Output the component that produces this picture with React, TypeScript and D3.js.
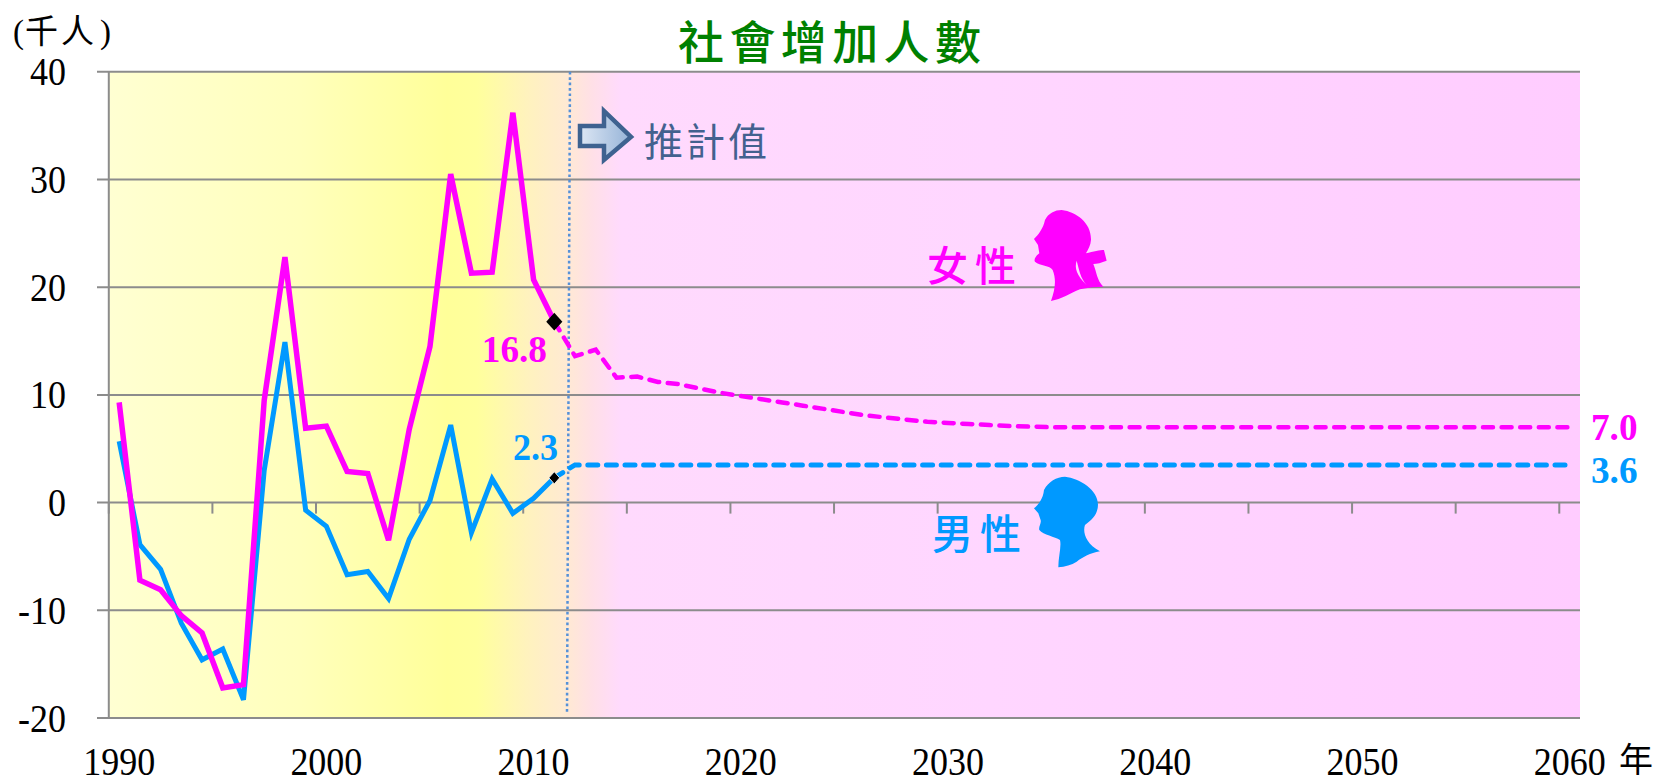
import React from "react";
import * as d3 from "d3";

const years = d3.range(1990, 2061);
const femaleActual = [9.3, -7.2, -8.1, -10.5, -12.1, -17.2, -16.9, 9.5, 22.8, 6.9, 7.1, 2.9, 2.7, -3.5, 6.8, 14.5, 30.5, 21.3, 21.4, 36.2, 20.7, 16.8];
const femaleProjected = [16.8, 13.6, 14.2, 11.6, 11.7, 11.2, 11.0, 10.6, 10.2, 9.9, 9.6, 9.3, 9.0, 8.7, 8.4, 8.1, 7.9, 7.7, 7.5, 7.4, 7.3, 7.2, 7.1, 7.05, 7.0, 7.0, 7.0, 7.0, 7.0, 7.0, 7.0, 7.0, 7.0, 7.0, 7.0, 7.0, 7.0, 7.0, 7.0, 7.0, 7.0, 7.0, 7.0, 7.0, 7.0, 7.0, 7.0, 7.0, 7.0, 7.0];
const maleActual = [5.7, -3.9, -6.2, -11.2, -14.6, -13.6, -18.3, 3.0, 14.9, -0.7, -2.2, -6.7, -6.4, -8.9, -3.4, 0.2, 7.2, -2.8, 2.2, -1.0, 0.4, 2.3];
const maleProjected = [2.3, 3.5, 3.5, 3.5, 3.5, 3.5, 3.5, 3.5, 3.5, 3.5, 3.5, 3.5, 3.5, 3.5, 3.5, 3.5, 3.5, 3.5, 3.5, 3.5, 3.5, 3.5, 3.5, 3.5, 3.5, 3.5, 3.5, 3.5, 3.5, 3.5, 3.5, 3.5, 3.5, 3.5, 3.5, 3.5, 3.5, 3.5, 3.5, 3.5, 3.5, 3.5, 3.5, 3.5, 3.5, 3.5, 3.5, 3.5, 3.5, 3.5];
const yTicks = [40, 30, 20, 10, 0, -10, -20];
const xLabels = [1990, 2000, 2010, 2020, 2030, 2040, 2050, 2060];
const projectionStart = 2011;

const FEMALE = "#FF00FF";
const MALE = "#0099FF";
const GRID = "#8C8C8C";
const SERIF = "'Liberation Serif', serif";
const CJK = "'Noto Sans CJK TC', sans-serif";

const x = d3.scaleBand<number>().domain(years).range([108.8, 1580]);
const y = d3.scaleLinear().domain([-20, 40]).range([718, 71.8]);
const cx = (yr: number) => (x(yr) as number) + x.bandwidth() / 2;
const line = d3.line<[number, number]>().x((d) => cx(d[0])).y((d) => y(d[1]));
const pairs = (vals: number[], start: number) => vals.map((v, i) => [start + i, v] as [number, number]);
const diamond = d3.symbol(d3.symbolDiamond, 100)();

function Num({ x: px, y: py, anchor, size = 40, sx = 0.9, bold, fill = "#000", children }: any) {
  return (
    <text
      transform={`translate(${px},${py}) scale(${sx},1)`}
      textAnchor={anchor}
      fontFamily={SERIF}
      fontWeight={bold ? "bold" : "normal"}
      fontSize={size}
      fill={fill}
    >
      {children}
    </text>
  );
}

export default function App() {
  const left = x.range()[0];
  const right = x.range()[1];
  const tickYears = years.filter((_, i) => i % 5 === 0);
  return (
    <svg width={1656} height={778} style={{ position: "fixed", left: 0, top: 0, display: "block", background: "#fff" }}>
      <defs>
        <linearGradient id="bg" x1="0" x2="1" y1="0" y2="0">
          <stop offset="0" stopColor="#FFFFD2" />
          <stop offset="0.13" stopColor="#FFFFBC" />
          <stop offset="0.23" stopColor="#FFFF99" />
          <stop offset="0.25" stopColor="#FFFF9C" />
          <stop offset="0.285" stopColor="#FFF2BE" />
          <stop offset="0.31" stopColor="#FFEAD2" />
          <stop offset="0.328" stopColor="#FFE0E6" />
          <stop offset="0.348" stopColor="#FFDAFD" />
          <stop offset="0.6" stopColor="#FFD6FF" />
          <stop offset="1" stopColor="#FFCCFF" />
        </linearGradient>
        <linearGradient id="arrowFill" x1="0" x2="1" y1="0" y2="0">
          <stop offset="0" stopColor="#DCE6F4" />
          <stop offset="1" stopColor="#95B3D7" />
        </linearGradient>
      </defs>

      <rect x={left} y={y(40)} width={right - left} height={y(-20) - y(40)} fill="url(#bg)" />

      {yTicks.map((t) => (
        <g key={t}>
          <line x1={97} x2={right} y1={y(t)} y2={y(t)} stroke={GRID} strokeWidth={2} />
          <Num x={66} y={y(t) + 13.5} anchor="end">{t}</Num>
        </g>
      ))}
      <line x1={left} x2={left} y1={y(40)} y2={y(-20)} stroke={GRID} strokeWidth={2} />
      {tickYears.map((yr) => (
        <line key={yr} x1={x(yr)} x2={x(yr)} y1={y(0)} y2={y(0) + 11} stroke={GRID} strokeWidth={2} />
      ))}
      {xLabels.map((yr) => (
        <Num key={yr} x={cx(yr)} y={775} anchor="middle">{yr}</Num>
      ))}
      <text x={1636} y={772} textAnchor="middle" fontFamily={CJK} fontSize={34} fill="#000">年</text>
      <text x={13} y={43} fontFamily={SERIF} fontSize={33} fill="#000">(</text>
      <text x={25} y={43} fontFamily={CJK} fontSize={33} fill="#000" letterSpacing={3}>千人</text>
      <text x={100} y={43} fontFamily={SERIF} fontSize={33} fill="#000">)</text>

      <text x={678} y={59} fontFamily={CJK} fontSize={46} fontWeight={500} fill="#008000" letterSpacing={5.4}>社會增加人數</text>

      <line x1={570} y1={y(40)} x2={567} y2={712} stroke="#5591D8" strokeWidth={2.5} strokeDasharray="2.7 2.7" />

      <path d="M580 126H604V111L631 137L604 160V146H580Z" fill="url(#arrowFill)" stroke="#3E6290" strokeWidth={4.5} />
      <text x={644} y={156} fontFamily={CJK} fontSize={39} fill="#43618F" letterSpacing={3}>推計值</text>

      <path d={line(pairs(maleActual, 1990)) as string} fill="none" stroke={MALE} strokeWidth={5} />
      <path d={line(pairs(femaleActual, 1990)) as string} fill="none" stroke={FEMALE} strokeWidth={5.5} />
      <path d={line(pairs(maleProjected, projectionStart)) as string} fill="none" stroke={MALE} strokeWidth={5} strokeDasharray="10 8.6" strokeLinecap="round" />
      <path d={line(pairs(femaleProjected, projectionStart)) as string} fill="none" stroke={FEMALE} strokeWidth={4.5} strokeDasharray="10 8.6" strokeLinecap="round" />

      <path d={diamond as string} transform={`translate(${cx(2011)},${y(16.8)}) scale(1.5,0.95)`} fill="#000" />
      <path d={diamond as string} transform={`translate(${cx(2011)},${y(2.3)}) scale(1.0,0.65)`} fill="#000" stroke="#fff" strokeWidth={1} />

      <Num x={547} y={362} anchor="end" bold fill={FEMALE} size={38} sx={0.98}>16.8</Num>
      <Num x={513} y={460} bold fill={MALE} size={38} sx={0.95}>2.3</Num>
      <Num x={1591} y={440} bold fill={FEMALE} size={38} sx={0.98}>7.0</Num>
      <Num x={1591} y={483} bold fill={MALE} size={38} sx={0.98}>3.6</Num>

      <text x={927} y={281} fontFamily={CJK} fontSize={41} fontWeight={500} fill={FEMALE} letterSpacing={7}>女性</text>
      <text x={932} y={549} fontFamily={CJK} fontSize={41} fontWeight={500} fill={MALE} letterSpacing={7}>男性</text>

      <g transform="translate(880,190) scale(0.3333)">
        <path fill={FEMALE} d="M545 60C590 65 635 100 633 150C632 165 625 178 618 190C640 185 660 180 672 180L680 212C665 218 650 222 640 222C650 245 650 270 670 290C650 290 625 292 600 298C570 310 545 328 513 333C525 300 530 270 518 240C510 225 480 228 465 215C460 208 470 195 478 190L474 165L462 147C475 135 490 115 495 90C505 70 525 60 545 60Z" />
        <path fill="#FFD6FE" d="M590 212C583 235 590 255 620 285C600 262 598 240 590 212Z" />
        <path fill={MALE} d="M555 860C600 865 655 900 654 945C653 975 635 990 615 1005C608 1025 615 1060 660 1084C630 1090 610 1100 590 1115C575 1125 555 1130 535 1132C535 1100 545 1070 540 1050C525 1040 490 1035 478 1020C475 1010 485 1000 482 990L475 970L462 955C475 945 490 925 492 900C505 875 530 860 555 860Z" />
      </g>
    </svg>
  );
}
